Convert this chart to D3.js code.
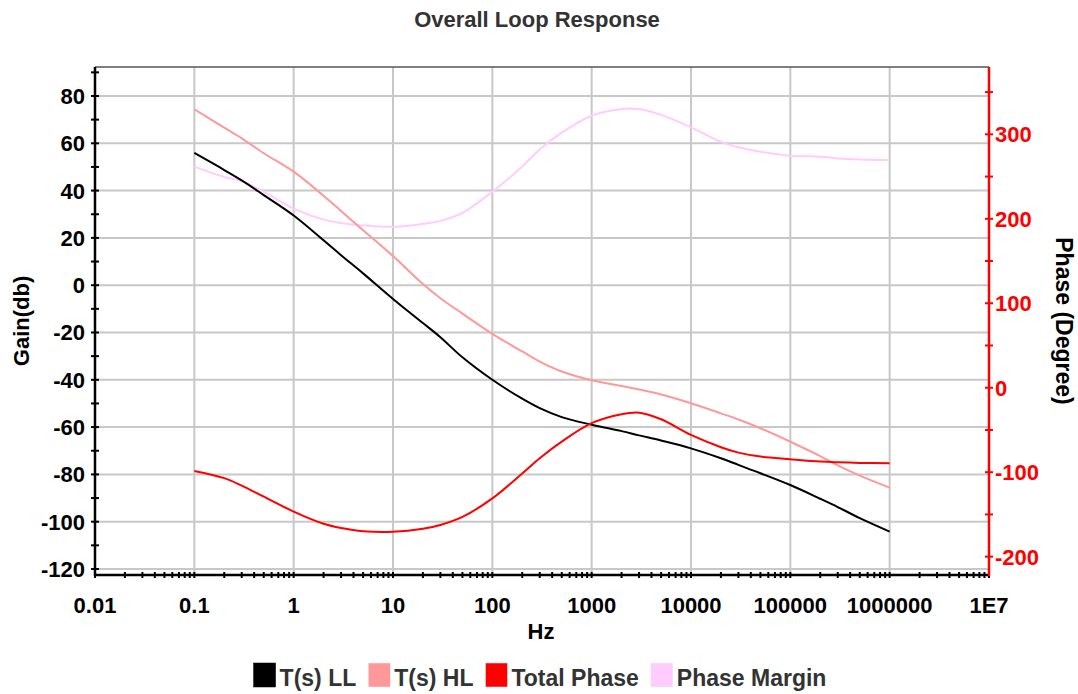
<!DOCTYPE html>
<html>
<head>
<meta charset="utf-8">
<script src="https://cdn.jsdelivr.net/npm/d3@7"></script>
<style>
  body { margin: 0; background: #fff; }
  svg { display: block; font-family: 'Liberation Sans', Arial, sans-serif; font-weight: bold; }
</style>
</head>
<body>
<svg id="chart"></svg>
<script>
// frequency points (Hz)
const freqs = [0.1, 0.2, 0.3, 0.5, 1, 2, 3, 5, 10, 20, 30, 50, 100, 200, 300, 500,
  1000, 2000, 3000, 5000, 1e4, 2e4, 3e4, 5e4, 1e5, 2e5, 3e5, 5e5, 1e6];

// gain (dB), left axis
const gainLL = [55.9, 48.7, 44.3, 38.1, 29.5, 19, 12.7, 5, -5.8, -16, -22, -30.5, -40, -48, -52, -55.8,
  -59, -61.7, -63.5, -65.7, -69, -73.2, -76, -79.5, -84.5, -90.3, -93.8, -98.5, -104.2];
const gainHL = [74.4, 66.6, 62.1, 55.8, 48, 37.8, 31.4, 23.2, 12.3, 0.5, -5.5, -12, -20.6, -28, -32.3, -36.5,
  -40.2, -42.6, -44.1, -46.2, -49.9, -54.2, -56.8, -60.5, -66.2, -72.3, -76.2, -80.5, -85.6];

// phase (degree), right axis
const totalPhase = [-98.5, -107, -116, -129, -146.6, -161, -166, -169.8, -170.5, -167, -162.5, -153, -131, -101.5, -83.4, -63.8,
  -42, -31.4, -29.5, -37.3, -55.9, -70.4, -76.8, -81.5, -84.6, -87.4, -88.3, -89, -89.3];
const phaseMargin = [261.7, 249.5, 244.5, 232, 212, 199, 195, 192, 190.5, 194, 197.5, 207, 232, 262, 282, 302,
  322, 330, 330, 323, 308.3, 291, 284.6, 279.4, 274.7, 273.5, 271.5, 270.2, 269.6];

const xTicks = [0.01, 0.1, 1, 10, 100, 1000, 10000, 100000, 1000000, 10000000];
const xTickLabels = ['0.01', '0.1', '1', '10', '100', '1000', '10000', '100000', '1000000', '1E7'];
const gainTicks = [-120, -100, -80, -60, -40, -20, 0, 20, 40, 60, 80];
const phaseTicks = [-200, -100, 0, 100, 200, 300];

const seriesNames = ['T(s) LL', 'T(s) HL', 'Total Phase', 'Phase Margin'];
const seriesColors = ['#000000', '#ff9999', '#ff0000', '#ffccff'];

const width = 1078, height = 694;
const plotLeft = 95, plotRight = 989, plotTop = 67, plotBottom = 575;

const svg = d3.select('#chart').attr('width', width).attr('height', height);
svg.append('rect').attr('width', width).attr('height', height).attr('fill', '#fff');

const x = d3.scaleLog().domain([0.01, 1e7]).range([plotLeft, plotRight]);
const yGain = d3.scaleLinear().domain([-122.54, 92.26]).range([plotBottom, plotTop]);
const yPhase = d3.scaleLinear().domain([-221.7, 379.7]).range([plotBottom, plotTop]);

// minor ticks on log axis
let xMinor = [];
for (let d = 0.01; d < 1e7; d *= 10) {
    for (let k = 2; k <= 9; k++) xMinor.push(d * k);
}
const gainMinor = d3.range(-110, 91, 20);
const phaseMinor = d3.range(-150, 351, 100);

// grid
const grid = svg.append('g').attr('stroke', '#c8c8c8').attr('stroke-width', 2);
grid.selectAll('line.v')
    .data(xTicks.slice(1, -1))
    .enter().append('line')
    .attr('x1', d => x(d)).attr('x2', d => x(d))
    .attr('y1', plotTop).attr('y2', plotBottom);
grid.selectAll('line.h')
    .data(gainTicks)
    .enter().append('line')
    .attr('x1', plotLeft).attr('x2', plotRight)
    .attr('y1', d => yGain(d)).attr('y2', d => yGain(d));

// top border
svg.append('line').attr('x1', plotLeft).attr('x2', plotRight).attr('y1', plotTop).attr('y2', plotTop)
    .attr('stroke', '#555').attr('stroke-width', 1.5);

// curves
const lineGain = d3.line().x((d, i) => x(freqs[i])).y(d => yGain(d)).curve(d3.curveCatmullRom.alpha(0.5));
const linePhase = d3.line().x((d, i) => x(freqs[i])).y(d => yPhase(d)).curve(d3.curveCatmullRom.alpha(0.5));

svg.append('path').datum(phaseMargin).attr('d', linePhase)
    .attr('fill', 'none').attr('stroke', seriesColors[3]).attr('stroke-width', 2);
svg.append('path').datum(gainHL).attr('d', lineGain)
    .attr('fill', 'none').attr('stroke', seriesColors[1]).attr('stroke-width', 2);
svg.append('path').datum(gainLL).attr('d', lineGain)
    .attr('fill', 'none').attr('stroke', seriesColors[0]).attr('stroke-width', 2);
svg.append('path').datum(totalPhase).attr('d', linePhase)
    .attr('fill', 'none').attr('stroke', seriesColors[2]).attr('stroke-width', 2);

// bottom axis
const xAxis = svg.append('g').attr('stroke', '#000').attr('stroke-width', 2);
xAxis.append('line').attr('x1', plotLeft - 1).attr('x2', plotRight).attr('y1', plotBottom).attr('y2', plotBottom).attr('stroke-width', 2.5);
xAxis.selectAll('line.t')
    .data(xTicks.concat(xMinor))
    .enter().append('line')
    .attr('x1', d => x(d)).attr('x2', d => x(d))
    .attr('y1', plotBottom - 3).attr('y2', plotBottom + 3);
svg.append('g').selectAll('text')
    .data(xTicks)
    .enter().append('text')
    .attr('x', d => x(d)).attr('y', plotBottom + 38)
    .attr('text-anchor', 'middle')
    .style('font-size', '22px')
    .attr('fill', '#000')
    .text((d, i) => xTickLabels[i]);

// left axis
const yAxisL = svg.append('g').attr('stroke', '#000').attr('stroke-width', 2);
yAxisL.append('line').attr('x1', plotLeft).attr('x2', plotLeft).attr('y1', plotTop).attr('y2', plotBottom + 1).attr('stroke-width', 2.5);
yAxisL.selectAll('line.t')
    .data(gainTicks.concat(gainMinor))
    .enter().append('line')
    .attr('x1', plotLeft - 4).attr('x2', plotLeft + 4)
    .attr('y1', d => yGain(d)).attr('y2', d => yGain(d));
svg.append('g').selectAll('text')
    .data(gainTicks)
    .enter().append('text')
    .attr('x', plotLeft - 10).attr('y', d => yGain(d) + 8)
    .attr('text-anchor', 'end')
    .style('font-size', '22px')
    .attr('fill', '#000')
    .text(d => d);

// right axis
const yAxisR = svg.append('g').attr('stroke', '#ff0000').attr('stroke-width', 2);
yAxisR.append('line').attr('x1', plotRight).attr('x2', plotRight).attr('y1', plotTop).attr('y2', plotBottom + 1).attr('stroke-width', 2.5);
yAxisR.selectAll('line.t')
    .data(phaseTicks.concat(phaseMinor))
    .enter().append('line')
    .attr('x1', plotRight - 4).attr('x2', plotRight + 4)
    .attr('y1', d => yPhase(d)).attr('y2', d => yPhase(d));
svg.append('g').selectAll('text')
    .data(phaseTicks)
    .enter().append('text')
    .attr('x', plotRight + 6).attr('y', d => yPhase(d) + 8)
    .attr('text-anchor', 'start')
    .style('font-size', '22px')
    .attr('fill', '#ff0000')
    .text(d => d);

// titles
svg.append('text').attr('x', 537).attr('y', 27).attr('text-anchor', 'middle')
    .style('font-size', '22px').attr('fill', '#333').text('Overall Loop Response');
svg.append('text').attr('x', 541).attr('y', 639).attr('text-anchor', 'middle')
    .style('font-size', '22px').attr('fill', '#000').text('Hz');
svg.append('text').attr('transform', 'translate(29, 321) rotate(-90)').attr('text-anchor', 'middle')
    .style('font-size', '22px').attr('fill', '#000').text('Gain(db)');
svg.append('text').attr('transform', 'translate(1056, 321) rotate(90)').attr('text-anchor', 'middle')
    .style('font-size', '23px').attr('fill', '#000').text('Phase (Degree)');

// legend
const legend = svg.append('g');
let lx = 0;
seriesNames.forEach((name, i) => {
    const item = legend.append('g').attr('transform', `translate(${lx}, 0)`);
    item.append('rect').attr('x', 0).attr('y', 663).attr('width', 22).attr('height', 24)
        .attr('fill', seriesColors[i]).attr('stroke', i === 0 ? '#000' : '#eee').attr('stroke-width', 0.5);
    const t = item.append('text').attr('x', 26).attr('y', 686)
        .style('font-size', '23px').attr('fill', '#333').text(name);
    lx += 26 + t.node().getComputedTextLength() + 12;
});
legend.attr('transform', `translate(${540 - (lx - 12) / 2}, 0)`);
</script>
</body>
</html>
